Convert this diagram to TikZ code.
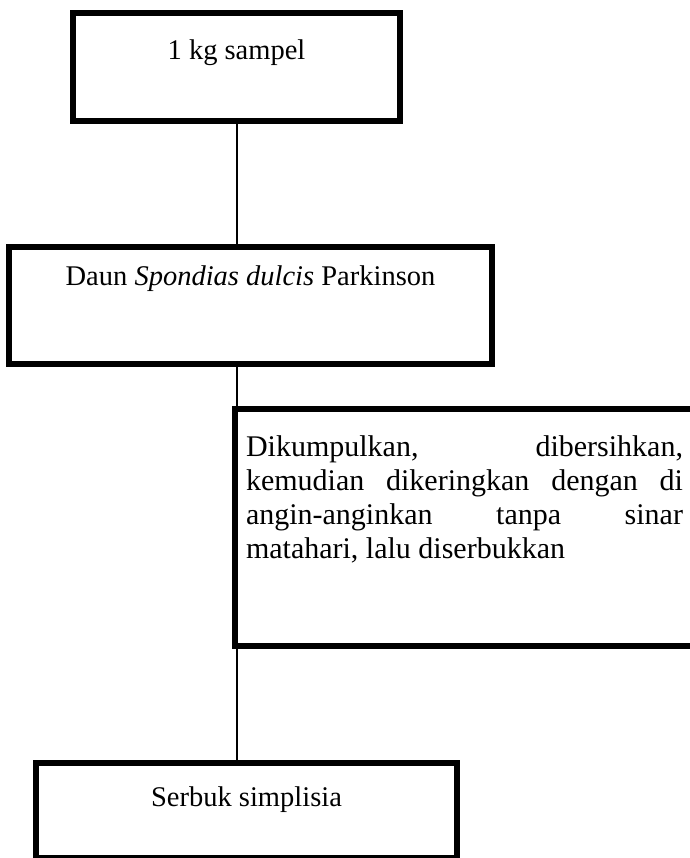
\documentclass[tikz,border=0pt]{standalone}
\usepackage{fontspec}
\setmainfont{Liberation Serif}
\usetikzlibrary{positioning}

\begin{document}
\begin{tikzpicture}[
  x=1pt, y=1pt,
  box/.style={draw, line width=6pt, anchor=north, inner xsep=0pt, inner ysep=0pt, font=\fontsize{28.5}{33}\selectfont},
  link/.style={line width=2pt}
]
  \useasboundingbox (0,0) rectangle (689,-858);

  \node[box, minimum width=327pt, text height=47pt, text depth=61pt] (sampel) at (236.5,-10) {1 kg sampel};
  \node[box, minimum width=483pt, text height=38pt, text depth=79pt] (daun) at (250.5,-244) {Daun \textit{Spondias dulcis} Parkinson};
  \node[box, draw=none, anchor=north west, inner xsep=8pt, text width=437pt, align=justify,
        font=\fontsize{30}{34}\selectfont, text height=44pt, text depth=187pt] (proses) at (235,-409)
        {\sloppy Dikumpulkan, dibersihkan,\linebreak kemudian dikeringkan dengan di\linebreak angin-anginkan tanpa sinar\linebreak matahari, lalu diserbukkan};
  \draw[line width=6pt] (proses.north west) rectangle ([xshift=30pt]proses.south east);
  \node[box, minimum width=421pt, text height=43pt, text depth=52pt] (serbuk) at (246.5,-760) {Serbuk simplisia};

  \draw[link] (sampel.south) -- (sampel.south |- daun.north);
  \draw[link] (sampel.south |- daun.south) -- (sampel.south |- proses.north);
  \draw[link] (sampel.south |- proses.south) -- (sampel.south |- serbuk.north);
\end{tikzpicture}
\end{document}
